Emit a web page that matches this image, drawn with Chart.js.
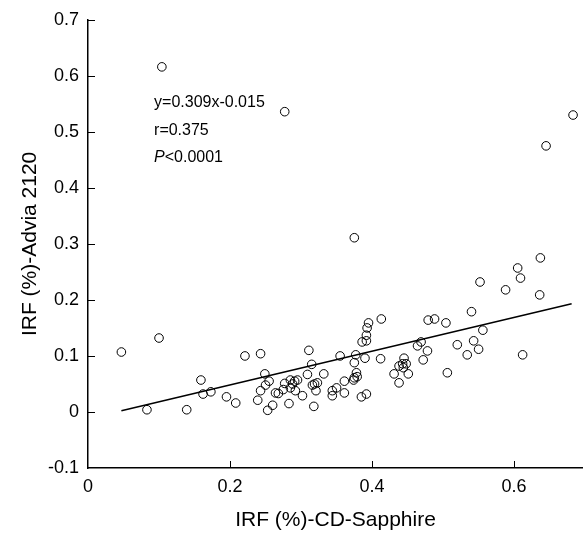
<!DOCTYPE html>
<html>
<head>
<meta charset="utf-8">
<script src="https://cdn.jsdelivr.net/npm/chart.js@4/dist/chart.umd.min.js"></script>
<style>
html,body{margin:0;padding:0;background:#fff;}
#wrap{width:583px;height:533px;}
</style>
</head>
<body>
<div id="wrap"><canvas id="c" width="583" height="533"></canvas></div>
<script>
// IRF (%) by CD-Sapphire (x) and Advia 2120 (y)
const sapphireIRF = [
  0.104,0.277,0.683,0.645,0.375,
  0.047,0.100,0.083,0.139,0.159,0.162,0.173,0.195,0.208,0.221,0.243,
  0.249,0.255,0.250,0.243,0.239,0.260,0.253,0.264,0.268,0.277,0.275,0.283,0.285,0.288,0.291,0.295,0.285,0.292,0.302,0.311,0.315,0.309,0.316,0.321,0.318,0.319,0.323,0.332,
  0.344,0.350,0.344,0.361,0.361,0.355,0.377,0.375,0.378,0.375,0.379,0.374,0.385,0.392,0.390,0.386,0.392,0.392,0.393,0.395,0.413,0.412,0.431,0.438,0.445,0.438,0.443,0.448,0.444,0.451,0.464,
  0.637,0.605,0.609,0.552,0.588,0.636,0.540,0.479,0.488,0.504,0.556,0.469,0.478,0.472,0.520,0.543,0.550,0.534,0.612,0.506
];
const adviaIRF = [
  0.616,0.536,0.530,0.475,0.311,
  0.107,0.132,0.004,0.004,0.057,0.032,0.036,0.027,0.016,0.100,0.104,
  0.068,0.055,0.048,0.038,0.021,0.012,0.003,0.034,0.033,0.051,0.040,0.015,0.057,0.050,0.055,0.057,0.043,0.038,0.029,0.110,0.085,0.067,0.048,0.038,0.010,0.050,0.052,0.068,
  0.038,0.043,0.029,0.055,0.034,0.100,0.102,0.088,0.070,0.061,0.063,0.057,0.027,0.032,0.096,0.125,0.127,0.137,0.150,0.159,0.166,0.095,0.068,0.052,0.096,0.082,0.086,0.086,0.079,0.068,0.118,
  0.275,0.257,0.239,0.232,0.218,0.209,0.179,0.164,0.166,0.159,0.146,0.125,0.109,0.093,0.120,0.127,0.112,0.102,0.102,0.070
];
// regression line end points as drawn
const regLineX = [0.047, 0.681];
const regLineY = [0.002, 0.193];

const xTicks = [0, 0.2, 0.4, 0.6];
const xTickLabels = ['0', '0.2', '0.4', '0.6'];
const yTicks = [-0.1, 0, 0.1, 0.2, 0.3, 0.4, 0.5, 0.6, 0.7];
const yTickLabels = ['-0.1', '0', '0.1', '0.2', '0.3', '0.4', '0.5', '0.6', '0.7'];

const statLines = ['y=0.309x-0.015', 'r=0.375', 'P<0.0001'];

const FONT = "'Liberation Sans', Arial, sans-serif";

const scatterData = sapphireIRF.map((x, i) => ({x: x, y: adviaIRF[i]}));
const lineData = regLineX.map((x, i) => ({x: x, y: regLineY[i]}));

const innerTicks = {
  id: 'innerTicks',
  afterDraw(chart) {
    const ctx = chart.ctx;
    const xs = chart.scales.x, ys = chart.scales.y;
    const area = chart.chartArea;
    ctx.save();
    ctx.strokeStyle = '#000';
    ctx.lineWidth = 1;
    xTicks.forEach(v => {
      if (v === 0) return;
      const px = Math.round(xs.getPixelForValue(v)) + 0.5;
      ctx.beginPath();
      ctx.moveTo(px, area.bottom);
      ctx.lineTo(px, area.bottom - 7);
      ctx.stroke();
    });
    yTicks.forEach(v => {
      if (v === yTicks[0]) return;
      const py = Math.round(ys.getPixelForValue(v)) + 0.5;
      ctx.beginPath();
      ctx.moveTo(area.left, py);
      ctx.lineTo(area.left + 7, py);
      ctx.stroke();
    });
    // statistics text
    const tx = xs.getPixelForValue(0.093);
    const y0 = ys.getPixelForValue(0.553);
    ctx.fillStyle = '#000';
    ctx.textBaseline = 'middle';
    ctx.textAlign = 'left';
    ctx.font = "16px " + FONT;
    ctx.fillText(statLines[0], tx, y0);
    ctx.fillText(statLines[1], tx, y0 + 28);
    ctx.font = "italic 16px " + FONT;
    ctx.fillText('P', tx, y0 + 55);
    const pw = ctx.measureText('P').width;
    ctx.font = "16px " + FONT;
    ctx.fillText(statLines[2].slice(1), tx + pw, y0 + 55);
    ctx.restore();
  }
};

new Chart(document.getElementById('c'), {
  type: 'scatter',
  data: {
    datasets: [
      {
        label: 'IRF',
        data: scatterData,
        pointRadius: 4.3,
        pointHoverRadius: 4.3,
        pointBorderWidth: 1,
        pointBorderColor: '#000',
        pointBackgroundColor: 'rgba(255,255,255,0)',
        showLine: false,
        clip: false
      },
      {
        label: 'fit',
        type: 'line',
        data: lineData,
        borderColor: '#000',
        borderWidth: 1.5,
        pointRadius: 0,
        fill: false
      }
    ]
  },
  options: {
    responsive: false,
    animation: false,
    devicePixelRatio: 1,
    layout: {autoPadding: false, padding: {top: 19, right: 0, bottom: 0, left: 0}},
    plugins: {legend: {display: false}, tooltip: {enabled: false}},
    scales: {
      x: {
        type: 'linear',
        min: 0,
        max: 0.697,
        afterBuildTicks(scale) { scale.ticks = xTicks.map(v => ({value: v})); },
        afterFit(scale) { scale.height = 65; },
        grid: {display: true, drawOnChartArea: false, drawTicks: false},
        border: {display: true, color: '#000', width: 1.5},
        ticks: {
          padding: 8,
          color: '#000',
          font: {family: FONT, size: 18},
          maxRotation: 0,
          callback: (v) => { const i = xTicks.findIndex(t => Math.abs(t - v) < 1e-9); return i >= 0 ? xTickLabels[i] : ''; }
        },
        title: {
          display: true,
          text: 'IRF (%)-CD-Sapphire',
          color: '#000',
          font: {family: FONT, size: 21},
          padding: {top: 0, bottom: 0}
        }
      },
      y: {
        type: 'linear',
        min: -0.1,
        max: 0.7,
        afterBuildTicks(scale) { scale.ticks = yTicks.map(v => ({value: v})); },
        afterFit(scale) { scale.width = 88; },
        grid: {display: true, drawOnChartArea: false, drawTicks: false},
        border: {display: true, color: '#000', width: 1.5},
        ticks: {
          padding: 9,
          color: '#000',
          font: {family: FONT, size: 18},
          callback: (v) => { const i = yTicks.findIndex(t => Math.abs(t - v) < 1e-9); return i >= 0 ? yTickLabels[i] : ''; }
        },
        title: {
          display: true,
          text: 'IRF (%)-Advia 2120',
          color: '#000',
          font: {family: FONT, size: 21},
          padding: {top: 18, bottom: 0}
        }
      }
    }
  },
  plugins: [innerTicks]
});
</script>
</body>
</html>
